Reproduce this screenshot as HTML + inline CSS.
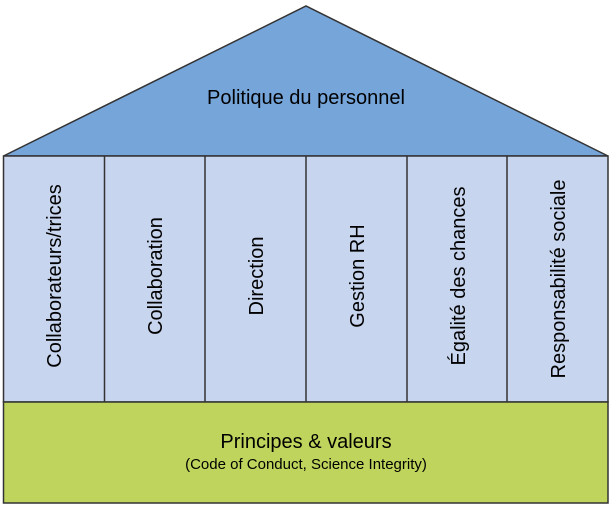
<!DOCTYPE html>
<html><head><style>html,body{margin:0;padding:0;background:#fff}svg{display:block}</style></head>
<body>
<svg width="615" height="512" xmlns="http://www.w3.org/2000/svg" font-family="Liberation Sans, sans-serif" fill="#000">
<polygon points="3.5,156 306,6 608,156" fill="#76a5da" stroke="#333" stroke-width="1.5"/>
<rect x="3.5" y="156" width="604.5" height="246" fill="#c7d5ee" stroke="#333" stroke-width="1.5"/>
<g stroke="#333" stroke-width="1.5">
<line x1="104.5" y1="156" x2="104.5" y2="402"/>
<line x1="205" y1="156" x2="205" y2="402"/>
<line x1="306" y1="156" x2="306" y2="402"/>
<line x1="407" y1="156" x2="407" y2="402"/>
<line x1="507" y1="156" x2="507" y2="402"/>
</g>
<rect x="3.5" y="402" width="604.5" height="101" fill="#bfd45c" stroke="#333" stroke-width="1.5"/>
<text x="306" y="104" font-size="20" text-anchor="middle">Politique du personnel</text>
<g font-size="20" text-anchor="middle">
<text transform="translate(61,276) rotate(-90)">Collaborateurs/trices</text>
<text transform="translate(162,276) rotate(-90)">Collaboration</text>
<text transform="translate(263,276) rotate(-90)">Direction</text>
<text transform="translate(364,276) rotate(-90)">Gestion RH</text>
<text transform="translate(465,276) rotate(-90)">Égalité des chances</text>
<text transform="translate(565,279) rotate(-90)">Responsabilité sociale</text>
</g>
<text x="306" y="448" font-size="20" text-anchor="middle">Principes &amp; valeurs</text>
<text x="306" y="469" font-size="15" text-anchor="middle">(Code of Conduct, Science Integrity)</text>
</svg>
</body></html>
